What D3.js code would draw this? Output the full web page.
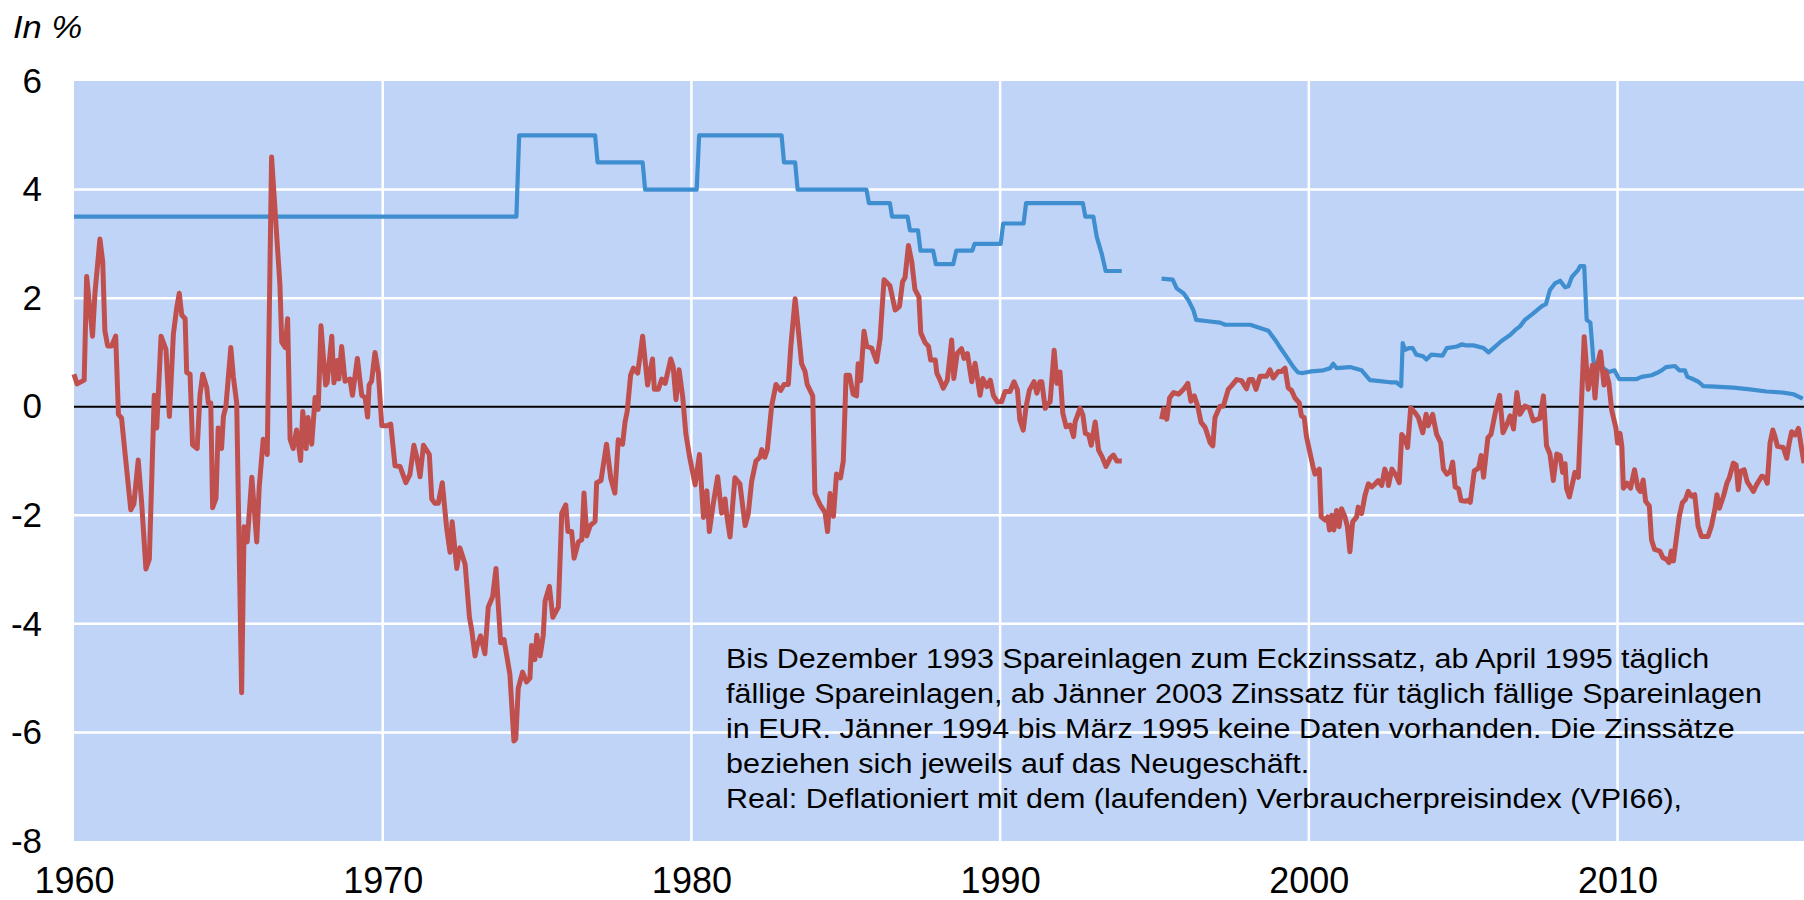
<!DOCTYPE html>
<html>
<head>
<meta charset="utf-8">
<script src="https://cdn.jsdelivr.net/npm/d3@7"></script>
<style>
  body { margin: 0; background: #fff; }
  svg { display: block; font-family: "Liberation Sans", Arial, sans-serif; }
</style>
</head>
<body>
<svg id="chart"></svg>
<script>
// nominal rate on savings deposits, [year, percent]; null = no data
var nominalRate = [
    [1960.00, 3.5], [1974.33, 3.5], [1974.42, 5.0], [1976.88, 5.0], [1976.96, 4.5],
    [1978.42, 4.5], [1978.50, 4.0], [1980.17, 4.0], [1980.25, 5.0], [1982.92, 5.0],
    [1983.00, 4.5], [1983.36, 4.5], [1983.44, 4.0], [1985.67, 4.0], [1985.75, 3.75],
    [1986.43, 3.75], [1986.50, 3.5], [1987.00, 3.5], [1987.08, 3.25], [1987.34, 3.25],
    [1987.42, 2.875], [1987.83, 2.875], [1987.92, 2.625], [1988.48, 2.625], [1988.58, 2.875],
    [1989.10, 2.875], [1989.17, 3.0], [1990.02, 3.0], [1990.10, 3.375], [1990.76, 3.375],
    [1990.84, 3.75], [1992.68, 3.75], [1992.76, 3.5], [1993.02, 3.5], [1993.13, 3.13],
    [1993.29, 2.82], [1993.42, 2.5], [1993.94, 2.5],
    [1994.60, null],
    [1995.23, 2.36], [1995.59, 2.34], [1995.72, 2.18], [1995.94, 2.09], [1996.10, 1.96],
    [1996.26, 1.78], [1996.35, 1.60], [1996.80, 1.57], [1997.12, 1.55], [1997.29, 1.51],
    [1998.10, 1.51], [1998.37, 1.46], [1998.69, 1.40], [1998.91, 1.23], [1999.12, 1.05],
    [1999.23, 0.96], [1999.49, 0.74], [1999.65, 0.63], [1999.81, 0.62], [2000.08, 0.65],
    [2000.47, 0.67], [2000.69, 0.71], [2000.79, 0.79], [2000.90, 0.71], [2001.33, 0.73],
    [2001.71, 0.67], [2001.98, 0.49], [2002.30, 0.47], [2002.63, 0.45], [2002.83, 0.45],
    [2002.99, 0.38], [2003.04, 1.17], [2003.12, 1.05], [2003.26, 1.08], [2003.36, 1.08],
    [2003.48, 0.96], [2003.70, 0.93], [2003.81, 0.87], [2003.97, 0.96], [2004.33, 0.94],
    [2004.47, 1.08], [2004.80, 1.11], [2004.96, 1.15], [2005.07, 1.13], [2005.33, 1.13],
    [2005.66, 1.08], [2005.82, 1.00], [2005.98, 1.08], [2006.24, 1.21], [2006.52, 1.32],
    [2006.68, 1.41], [2006.84, 1.48], [2007.00, 1.60], [2007.27, 1.72], [2007.54, 1.85],
    [2007.68, 1.89], [2007.81, 2.15], [2007.97, 2.27], [2008.14, 2.32], [2008.30, 2.20],
    [2008.41, 2.22], [2008.52, 2.39], [2008.71, 2.51], [2008.79, 2.59], [2008.92, 2.59],
    [2009.00, 1.60], [2009.12, 1.55], [2009.22, 0.84], [2009.50, 0.72], [2009.73, 0.64],
    [2009.90, 0.67], [2010.05, 0.51], [2010.62, 0.51], [2010.78, 0.55], [2011.10, 0.58],
    [2011.27, 0.62], [2011.43, 0.67], [2011.57, 0.73], [2011.86, 0.75], [2012.00, 0.67],
    [2012.18, 0.67], [2012.26, 0.55], [2012.40, 0.52], [2012.62, 0.46], [2012.78, 0.38],
    [2013.16, 0.37], [2013.75, 0.35], [2014.29, 0.32], [2014.83, 0.28], [2015.37, 0.26],
    [2015.70, 0.23], [2016.00, 0.15]
];

// real rate (deflated with CPI), [year, percent]; null = no data
var realRate = [
    [1960.00, 0.60], [1960.10, 0.42], [1960.33, 0.49], [1960.41, 2.40], [1960.60, 1.30],
    [1960.68, 2.10], [1960.84, 3.09], [1960.93, 2.67], [1961.00, 1.40], [1961.09, 1.12],
    [1961.22, 1.12], [1961.35, 1.30], [1961.44, -0.14], [1961.54, -0.21], [1961.65, -0.84],
    [1961.84, -1.90], [1961.94, -1.79], [1962.08, -0.98], [1962.19, -1.76], [1962.33, -2.99],
    [1962.44, -2.81], [1962.60, 0.21], [1962.68, -0.39], [1962.82, 1.30], [1962.98, 1.05],
    [1963.09, -0.18], [1963.22, 1.34], [1963.33, 1.83], [1963.41, 2.09], [1963.49, 1.69],
    [1963.60, 1.62], [1963.65, 0.63], [1963.76, 0.60], [1963.84, -0.70], [1963.99, -0.77],
    [1964.08, 0.21], [1964.17, 0.60], [1964.30, 0.35], [1964.35, 0.07], [1964.43, 0.07],
    [1964.49, -1.86], [1964.60, -1.69], [1964.67, -0.39], [1964.78, -0.77], [1964.84, -0.18],
    [1964.92, 0.00], [1965.08, 1.09], [1965.16, 0.56], [1965.27, 0.07], [1965.43, -5.27],
    [1965.51, -2.21], [1965.61, -2.49], [1965.76, -1.30], [1965.92, -2.49], [1966.00, -1.48],
    [1966.13, -0.60], [1966.26, -0.88], [1966.40, 4.60], [1966.67, 2.25], [1966.73, 1.19],
    [1966.84, 1.09], [1966.92, 1.62], [1967.00, -0.60], [1967.10, -0.77], [1967.21, -0.43],
    [1967.34, -0.99], [1967.41, -0.09], [1967.52, -0.77], [1967.58, -0.20], [1967.70, -0.69],
    [1967.81, 0.17], [1967.91, -0.05], [1968.00, 1.49], [1968.15, 0.40], [1968.20, 0.44],
    [1968.35, 1.30], [1968.42, 0.44], [1968.53, 0.85], [1968.58, 0.51], [1968.67, 1.11],
    [1968.78, 0.47], [1968.94, 0.51], [1969.02, 0.21], [1969.18, 0.89], [1969.32, 0.21],
    [1969.43, 0.17], [1969.51, -0.19], [1969.56, 0.40], [1969.64, 0.47], [1969.75, 1.00],
    [1969.86, 0.62], [1969.97, -0.35], [1970.13, -0.35], [1970.26, -0.32], [1970.40, -1.09],
    [1970.56, -1.10], [1970.75, -1.40], [1970.88, -1.25], [1971.01, -0.71], [1971.10, -0.92],
    [1971.21, -1.29], [1971.32, -0.71], [1971.51, -0.88], [1971.59, -1.70], [1971.69, -1.78],
    [1971.80, -1.78], [1971.93, -1.40], [1972.07, -2.23], [1972.18, -2.68], [1972.25, -2.12],
    [1972.40, -2.98], [1972.50, -2.60], [1972.67, -2.90], [1972.81, -3.88], [1972.88, -4.10],
    [1972.99, -4.59], [1973.06, -4.40], [1973.17, -4.22], [1973.31, -4.55], [1973.42, -3.69],
    [1973.56, -3.50], [1973.67, -2.98], [1973.82, -4.35], [1973.93, -4.29], [1974.12, -4.93],
    [1974.25, -6.16], [1974.31, -6.12], [1974.39, -5.19], [1974.53, -4.89], [1974.66, -5.07],
    [1974.77, -5.00], [1974.82, -4.40], [1974.93, -4.66], [1974.99, -4.21], [1975.10, -4.59],
    [1975.20, -4.21], [1975.26, -3.58], [1975.40, -3.31], [1975.51, -3.88], [1975.69, -3.69],
    [1975.80, -1.96], [1975.93, -1.81], [1976.00, -2.30], [1976.12, -2.30], [1976.20, -2.79],
    [1976.34, -2.49], [1976.45, -2.45], [1976.52, -1.59], [1976.61, -2.38], [1976.72, -2.19],
    [1976.88, -2.11], [1976.93, -1.40], [1977.07, -1.36], [1977.25, -0.69], [1977.39, -1.33],
    [1977.52, -1.59], [1977.63, -0.61], [1977.77, -0.69], [1977.85, -0.28], [1977.92, -0.09],
    [1978.03, 0.58], [1978.12, 0.71], [1978.26, 0.62], [1978.42, 1.30], [1978.58, 0.40],
    [1978.74, 0.88], [1978.80, 0.32], [1978.93, 0.32], [1979.04, 0.51], [1979.15, 0.43],
    [1979.33, 0.88], [1979.41, 0.73], [1979.50, 0.13], [1979.60, 0.68], [1979.72, 0.17],
    [1979.82, -0.50], [1979.95, -0.95], [1980.12, -1.44], [1980.26, -0.88], [1980.39, -2.04],
    [1980.50, -1.55], [1980.58, -2.30], [1980.71, -1.78], [1980.85, -1.29], [1980.98, -1.96],
    [1981.09, -1.70], [1981.14, -1.98], [1981.25, -2.40], [1981.41, -1.31], [1981.57, -1.42],
    [1981.74, -2.19], [1981.84, -1.98], [1981.95, -1.38], [1982.09, -1.00], [1982.22, -0.93],
    [1982.28, -0.79], [1982.38, -0.93], [1982.46, -0.79], [1982.60, 0.02], [1982.74, 0.41],
    [1982.89, 0.30], [1983.00, 0.41], [1983.14, 0.41], [1983.22, 1.11], [1983.36, 1.99],
    [1983.46, 1.43], [1983.57, 0.79], [1983.68, 0.65], [1983.75, 0.41], [1983.93, 0.20],
    [1984.00, -1.60], [1984.17, -1.81], [1984.33, -1.95], [1984.41, -2.30], [1984.49, -1.60],
    [1984.60, -2.02], [1984.70, -1.24], [1984.83, -1.31], [1984.92, -1.00], [1985.01, 0.58],
    [1985.12, 0.58], [1985.24, 0.23], [1985.35, 0.20], [1985.40, 0.79], [1985.48, 0.48],
    [1985.59, 1.39], [1985.68, 1.11], [1985.84, 1.08], [1986.00, 0.83], [1986.11, 1.25],
    [1986.24, 2.34], [1986.43, 2.23], [1986.60, 1.78], [1986.74, 1.85], [1986.84, 2.30],
    [1986.92, 2.38], [1987.03, 2.97], [1987.14, 2.66], [1987.24, 2.16], [1987.37, 2.02],
    [1987.43, 1.36], [1987.57, 1.18], [1987.68, 1.11], [1987.75, 0.86], [1987.90, 0.86],
    [1987.95, 0.62], [1988.05, 0.50], [1988.16, 0.34], [1988.29, 0.49], [1988.43, 1.23],
    [1988.50, 0.52], [1988.61, 0.98], [1988.75, 1.07], [1988.83, 0.89], [1988.94, 0.98],
    [1989.08, 0.46], [1989.19, 0.80], [1989.35, 0.21], [1989.44, 0.52], [1989.57, 0.37],
    [1989.68, 0.49], [1989.78, 0.21], [1989.91, 0.09], [1990.05, 0.09], [1990.16, 0.28],
    [1990.32, 0.28], [1990.45, 0.46], [1990.56, 0.31], [1990.64, -0.25], [1990.75, -0.43],
    [1990.84, 0.00], [1990.95, 0.31], [1991.10, 0.46], [1991.19, 0.25], [1991.29, 0.46],
    [1991.35, 0.46], [1991.46, -0.03], [1991.56, 0.06], [1991.62, 0.09], [1991.75, 1.04],
    [1991.84, 0.43], [1991.94, 0.64], [1992.03, -0.12], [1992.14, -0.37], [1992.27, -0.34],
    [1992.38, -0.55], [1992.43, -0.28], [1992.59, -0.03], [1992.68, -0.15], [1992.76, -0.49],
    [1992.87, -0.52], [1992.95, -0.71], [1993.08, -0.28], [1993.19, -0.80], [1993.30, -0.92],
    [1993.43, -1.10], [1993.56, -0.95], [1993.67, -0.89], [1993.78, -1.00], [1993.94, -1.00],
    [1994.60, null],
    [1995.23, -0.23], [1995.30, -0.04], [1995.40, -0.23], [1995.49, 0.16], [1995.62, 0.26],
    [1995.78, 0.23], [1995.94, 0.32], [1996.08, 0.43], [1996.18, 0.10], [1996.29, 0.20],
    [1996.40, 0.01], [1996.51, -0.29], [1996.64, -0.38], [1996.80, -0.66], [1996.89, -0.72],
    [1996.96, -0.20], [1997.12, 0.01], [1997.23, 0.01], [1997.39, 0.32], [1997.50, 0.39],
    [1997.66, 0.50], [1997.82, 0.48], [1997.98, 0.33], [1998.07, 0.50], [1998.18, 0.50],
    [1998.29, 0.32], [1998.42, 0.56], [1998.63, 0.56], [1998.74, 0.68], [1998.85, 0.53],
    [1999.01, 0.65], [1999.12, 0.65], [1999.23, 0.71], [1999.33, 0.35], [1999.44, 0.30],
    [1999.55, 0.16], [1999.69, 0.07], [1999.76, -0.17], [1999.85, -0.20], [1999.92, -0.54],
    [2000.00, -0.75], [2000.13, -1.09], [2000.20, -1.24], [2000.34, -1.15], [2000.40, -2.03],
    [2000.53, -2.09], [2000.61, -2.03], [2000.67, -2.27], [2000.74, -2.00], [2000.81, -2.27],
    [2000.90, -1.91], [2000.98, -2.21], [2001.06, -1.88], [2001.17, -2.03], [2001.25, -2.21],
    [2001.33, -2.67], [2001.42, -2.12], [2001.55, -2.03], [2001.60, -1.85], [2001.71, -1.97],
    [2001.82, -1.63], [2001.93, -1.42], [2002.04, -1.48], [2002.15, -1.42], [2002.25, -1.36],
    [2002.36, -1.45], [2002.46, -1.15], [2002.55, -1.30], [2002.58, -1.45], [2002.69, -1.15],
    [2002.83, -1.27], [2002.93, -1.40], [2003.01, -0.51], [2003.12, -0.60], [2003.20, -0.75],
    [2003.30, -0.02], [2003.44, -0.11], [2003.55, -0.20], [2003.69, -0.48], [2003.80, -0.14],
    [2003.87, -0.35], [2004.01, -0.14], [2004.14, -0.51], [2004.27, -0.66], [2004.36, -1.15],
    [2004.47, -1.24], [2004.58, -1.20], [2004.66, -1.02], [2004.74, -1.48], [2004.85, -1.51],
    [2004.93, -1.73], [2005.07, -1.74], [2005.18, -1.72], [2005.23, -1.76], [2005.36, -1.18],
    [2005.50, -1.13], [2005.58, -0.90], [2005.66, -1.30], [2005.80, -0.57], [2005.90, -0.51],
    [2006.04, -0.11], [2006.18, 0.21], [2006.29, -0.48], [2006.42, -0.32], [2006.52, -0.17],
    [2006.63, -0.41], [2006.74, 0.26], [2006.84, -0.14], [2007.00, 0.01], [2007.14, -0.02],
    [2007.27, -0.26], [2007.40, -0.23], [2007.48, -0.22], [2007.60, 0.20], [2007.70, -0.72],
    [2007.81, -0.87], [2007.92, -1.36], [2008.03, -0.87], [2008.14, -0.90], [2008.22, -1.21],
    [2008.30, -1.05], [2008.35, -1.51], [2008.44, -1.66], [2008.55, -1.39], [2008.62, -1.21],
    [2008.73, -1.30], [2008.92, 1.29], [2009.05, 0.32], [2009.19, 0.77], [2009.27, 0.16],
    [2009.36, 0.80], [2009.45, 1.01], [2009.56, 0.40], [2009.63, 0.64], [2009.72, 0.43],
    [2009.81, -0.06], [2009.95, -0.40], [2010.00, -0.67], [2010.08, -0.49], [2010.14, -0.73],
    [2010.19, -1.50], [2010.31, -1.41], [2010.42, -1.50], [2010.55, -1.16], [2010.66, -1.50],
    [2010.74, -1.56], [2010.83, -1.35], [2010.91, -1.74], [2011.03, -1.83], [2011.10, -2.45],
    [2011.20, -2.63], [2011.37, -2.66], [2011.47, -2.78], [2011.58, -2.81], [2011.67, -2.87],
    [2011.74, -2.66], [2011.81, -2.84], [2011.90, -2.45], [2012.00, -2.02], [2012.10, -1.77],
    [2012.20, -1.71], [2012.29, -1.56], [2012.40, -1.65], [2012.50, -1.62], [2012.61, -2.20],
    [2012.72, -2.39], [2012.93, -2.39], [2013.04, -2.20], [2013.15, -1.90], [2013.22, -1.62],
    [2013.30, -1.87], [2013.43, -1.65], [2013.54, -1.41], [2013.62, -1.31], [2013.75, -1.04],
    [2013.84, -1.07], [2013.91, -1.53], [2013.98, -1.19], [2014.10, -1.16], [2014.20, -1.38],
    [2014.30, -1.47], [2014.40, -1.56], [2014.50, -1.44], [2014.67, -1.28], [2014.77, -1.30],
    [2014.85, -1.41], [2014.94, -0.67], [2015.03, -0.43], [2015.10, -0.55], [2015.18, -0.73],
    [2015.37, -0.75], [2015.48, -0.95], [2015.56, -0.67], [2015.64, -0.46], [2015.75, -0.52],
    [2015.86, -0.40], [2015.97, -0.80], [2016.04, -1.04]
];

var yearTicks = [1960, 1970, 1980, 1990, 2000, 2010];
var valueTicks = [6, 4, 2, 0, -2, -4, -6, -8];
var unitLabel = "In %";
var noteLines = [
    "Bis Dezember 1993 Spareinlagen zum Eckzinssatz, ab April 1995 täglich",
    "fällige Spareinlagen, ab Jänner 2003 Zinssatz für täglich fällige Spareinlagen",
    "in EUR. Jänner 1994 bis März 1995 keine Daten vorhanden. Die Zinssätze",
    "beziehen sich jeweils auf das Neugeschäft.",
    "Real: Deflationiert mit dem (laufenden) Verbraucherpreisindex (VPI66),"
];

width = 1804;
height = 900;
margin = {left: 74, right: 0, top: 81, bottom: 59};
plotW = width - margin.left - margin.right;
plotH = height - margin.top - margin.bottom;

canvas = d3.select("#chart")
    .attr("width", width)
    .attr("height", height);

chart = canvas.append("g")
    .attr("transform", "translate(" + margin.left + "," + margin.top + ")");

x = d3.scaleLinear()
    .domain([1960, 2016.04])
    .range([0, plotW]);

y = d3.scaleLinear()
    .domain([-8, 6])
    .range([plotH, 0]);

chart.append("rect")
    .attr("width", plotW)
    .attr("height", plotH)
    .attr("fill", "#c0d4f8");

// white grid
chart.append("g")
    .selectAll("line")
    .data(valueTicks.filter((v) => v != 0 && v != 6 && v != -8))
    .join("line")
    .attr("x1", 0).attr("x2", plotW)
    .attr("y1", (d) => y(d)).attr("y2", (d) => y(d))
    .attr("stroke", "#fff")
    .attr("stroke-width", 2.5);

chart.append("g")
    .selectAll("line")
    .data(yearTicks.slice(1))
    .join("line")
    .attr("x1", (d) => x(d)).attr("x2", (d) => x(d))
    .attr("y1", 0).attr("y2", plotH)
    .attr("stroke", "#fff")
    .attr("stroke-width", 2.5);

chart.append("line")
    .attr("x1", 0).attr("x2", plotW)
    .attr("y1", y(0)).attr("y2", y(0))
    .attr("stroke", "#000")
    .attr("stroke-width", 2);

// axes without domain line or ticks; plain hyphen for negatives
yAxis = chart.append("g")
    .call(d3.axisLeft(y).tickValues(valueTicks).tickFormat((d) => String(d)).tickSize(0).tickPadding(32))
    .call((g) => g.select(".domain").remove());
yAxis.selectAll("text")
    .attr("font-size", 35)
    .attr("font-family", "Liberation Sans, Arial, sans-serif")
    .attr("fill", "#000");

xAxis = chart.append("g")
    .attr("transform", "translate(0," + plotH + ")")
    .call(d3.axisBottom(x).tickValues(yearTicks).tickFormat(d3.format("d")).tickSize(0).tickPadding(26))
    .call((g) => g.select(".domain").remove());
xAxis.selectAll("text")
    .attr("font-size", 36)
    .attr("font-family", "Liberation Sans, Arial, sans-serif")
    .attr("fill", "#000");

line = d3.line()
    .defined((d) => d[1] !== null)
    .x((d) => x(d[0]))
    .y((d) => y(d[1]));

chart.append("path")
    .datum(nominalRate)
    .attr("d", line)
    .attr("fill", "none")
    .attr("stroke", "#3f8fd0")
    .attr("stroke-width", 4.2)
    .attr("stroke-linejoin", "round");

chart.append("path")
    .datum(realRate)
    .attr("d", line)
    .attr("fill", "none")
    .attr("stroke", "#c0504d")
    .attr("stroke-width", 5)
    .attr("stroke-linejoin", "round");

canvas.append("text")
    .attr("transform", "translate(13,38) scale(1.08,1)")
    .attr("font-size", 32)
    .attr("font-style", "italic")
    .text(unitLabel);

// the note is set a little wider than the plain font
canvas.append("g")
    .attr("transform", "translate(726,0) scale(1.09,1)")
    .selectAll("text")
    .data(noteLines)
    .join("text")
    .attr("x", 0)
    .attr("y", (d, i) => 668 + i * 35)
    .attr("font-size", 28)
    .text((d) => d);
</script>
</body>
</html>
